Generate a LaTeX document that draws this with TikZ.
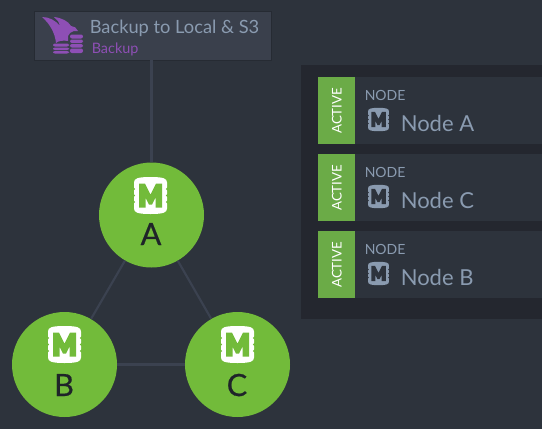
\documentclass[tikz,border=0pt]{standalone}
\usepackage{fontspec}
\setmainfont{Lato}
\newfontfamily\letterfont[FakeBold=0.6]{Lato}
\definecolor{bgmain}{HTML}{2D333C}
\definecolor{bgpanel}{HTML}{24272F}
\definecolor{bgbox}{HTML}{3A404C}
\definecolor{edgecol}{HTML}{3B4250}
\definecolor{greenc}{HTML}{72BB3A}
\definecolor{greens}{HTML}{6BAB47}
\definecolor{greytext}{HTML}{8A9BB0}
\definecolor{purplec}{HTML}{8E4FB5}
\definecolor{darktext}{HTML}{1F2429}
\tikzset{
  member/.style={circle,fill=greenc,minimum size=78.75pt,inner sep=0pt},
  letter/.style={text=darktext,font=\letterfont\fontsize{23}{23}\selectfont,anchor=base},
  link/.style={edgecol,line width=1.6pt},
  card/.style={fill=bgmain,minimum width=168pt,minimum height=50.25pt,anchor=north west,inner sep=0pt},
  strip/.style={fill=greens,minimum width=27.75pt,minimum height=50.25pt,anchor=west,inner sep=0pt},
  state/.style={text=white,rotate=90,font=\fontsize{10}{10}\selectfont},
  kind/.style={text=greytext,anchor=base west,inner sep=0pt,font=\fontsize{10.5}{10.5}\selectfont},
  nodename/.style={text=greytext,anchor=base west,inner sep=0pt,font=\fontsize{16.5}{16.5}\selectfont},
  pics/mdbicon/.style 2 args={code={
    % barrel, notches on its sides, then the M
    \fill[#1] (-16.5,-13) .. controls (-16.5,-17) and (-13,-18.5) .. (0,-18.5)
      .. controls (13,-18.5) and (16.5,-17) .. (16.5,-13) -- (16.5,13)
      .. controls (16.5,17) and (13,18.5) .. (0,18.5)
      .. controls (-13,18.5) and (-16.5,17) .. (-16.5,13) -- cycle;
    \fill[#2] (-17,-6.5) circle(1.7) (-17,0) circle(1.7) (-17,6.5) circle(1.7)
      (17,-6.5) circle(1.7) (17,0) circle(1.7) (17,6.5) circle(1.7);
    \fill[#2] (-11.5,-12) -- (-5.5,-12) -- (0,-1) -- (5.5,-12) -- (11.5,-12) -- (11.5,12) -- (5,12) -- (5,2)
      -- (1.5,9) -- (-1.5,9) -- (-5,2) -- (-5,12) -- (-11.5,12) -- cycle;
  }},
}
\begin{document}
\begin{tikzpicture}[x=0.75pt,y=-0.75pt]
  \fill[bgmain] (0,0) rectangle (542,429);
  \useasboundingbox (0,0) rectangle (542,429);
  % right side list
  \fill[bgpanel] (301,65) rectangle (542,319);
  \node[card] (cardA) at (318,77) {};
  \node[card] (cardC) at (318,154) {};
  \node[card] (cardB) at (318,231) {};
  \node[strip] (stripA) at (cardA.west) {};
  \node[strip] (stripC) at (cardC.west) {};
  \node[strip] (stripB) at (cardB.west) {};
  \node[state] (stateA) at (stripA) {ACTIVE};
  \node[state] (stateC) at (stripC) {ACTIVE};
  \node[state] (stateB) at (stripB) {ACTIVE};
  \node[kind] (kindA) at (364.5,100) {NODE};
  \node[kind] (kindC) at (364.5,177) {NODE};
  \node[kind] (kindB) at (364.5,254) {NODE};
  \node[nodename] (nameA) at (400.5,131) {Node A};
  \node[nodename] (nameC) at (400.5,208) {Node C};
  \node[nodename] (nameB) at (400.5,285) {Node B};
  \pic[scale=0.63] at (378.5,119.5) {mdbicon={greytext}{bgmain}};
  \pic[scale=0.63] at (378.5,196.5) {mdbicon={greytext}{bgmain}};
  \pic[scale=0.63] at (378.5,273.5) {mdbicon={greytext}{bgmain}};
  % backup box
  \node[fill=bgbox,draw=bgmain!85!black,line width=0.5pt,minimum width=177.75pt,minimum height=36.75pt,inner sep=0pt] (backup) at (152.5,35.5) {};
  \node[text=greytext,anchor=base west,inner sep=0pt,font=\fontsize{13.7}{13.7}\selectfont] (backuptitle) at (89.5,33) {Backup to Local \& S3};
  \node[text=purplec,anchor=base west,inner sep=0pt,font=\fontsize{10.8}{10.8}\selectfont] (backupkind) at (91.5,53) {Backup};
  \fill[purplec] (42,17) .. controls (49,17) and (55,20) .. (60,26) .. controls (59,22) and (57,19) .. (54,17)
    .. controls (62,18) and (68,21) .. (71,26) .. controls (74,26) and (77,28) .. (78,31) -- (74,31)
    .. controls (71,32) and (69,33) .. (68,36) -- (68,41) .. controls (63,40) and (58,41) .. (56,43)
    .. controls (55,33) and (50,24) .. (42,17) -- cycle;
  \fill[purplec,rounded corners=1.5pt] (53,43.5) rectangle (69,46.5) (53,47.5) rectangle (69,50) (53,51) rectangle (69,53.5);
  \fill[purplec,rounded corners=1.5pt] (70,34.5) rectangle (83,38.5) (70,39.5) rectangle (83,43) (70,44) rectangle (83,47.5) (70,48.5) rectangle (83,53);
  % cluster
  \node[member] (A) at (151.5,215) {};
  \node[member] (B) at (64.5,364.5) {};
  \node[member] (C) at (237.5,364.5) {};
  \draw[link] (A.north |- backup.south) -- (A.north);
  \draw[link] (A) -- (B);
  \draw[link] (A) -- (C);
  \draw[link] (B) -- (C);
  \pic at (150.5,195.5) {mdbicon={white}{greenc}};
  \pic at (64.5,344.5) {mdbicon={white}{greenc}};
  \pic at (237.5,344.5) {mdbicon={white}{greenc}};
  \node[letter] (letterA) at (151,245) {A};
  \node[letter] (letterB) at (64,396) {B};
  \node[letter] (letterC) at (237,396) {C};
\end{tikzpicture}
\end{document}
